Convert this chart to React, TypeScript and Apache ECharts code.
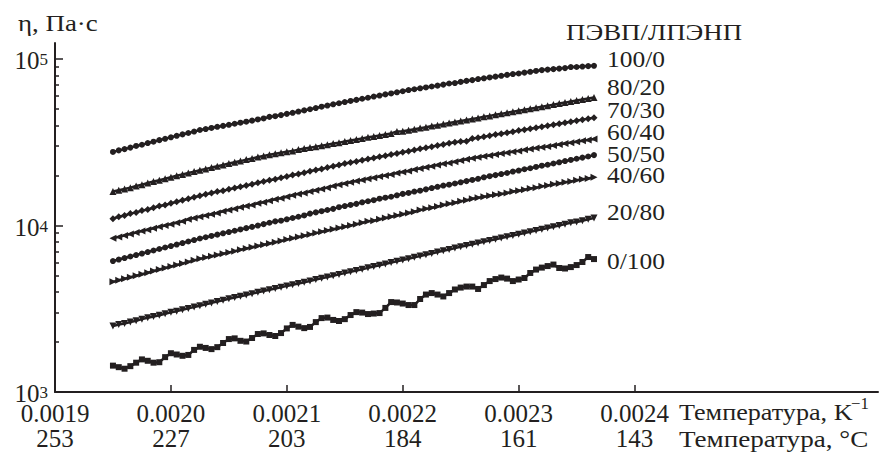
import React, { useEffect, useRef } from 'react';
import * as echarts from 'echarts';

// inverse temperature, 1/K
const invT = [
  0.00195, 0.001955, 0.00196, 0.001965, 0.00197, 0.001975, 0.00198, 0.001985, 0.00199, 0.001995,
  0.002, 0.002005, 0.00201, 0.002015, 0.00202, 0.002025, 0.00203, 0.002035, 0.00204, 0.002045,
  0.00205, 0.002055, 0.00206, 0.002065, 0.00207, 0.002075, 0.00208, 0.002085, 0.00209, 0.002095,
  0.0021, 0.002105, 0.00211, 0.002115, 0.00212, 0.002125, 0.00213, 0.002135, 0.00214, 0.002145,
  0.00215, 0.002155, 0.00216, 0.002165, 0.00217, 0.002175, 0.00218, 0.002185, 0.00219, 0.002195,
  0.0022, 0.002205, 0.00221, 0.002215, 0.00222, 0.002225, 0.00223, 0.002235, 0.00224, 0.002245,
  0.00225, 0.002255, 0.00226, 0.002265, 0.00227, 0.002275, 0.00228, 0.002285, 0.00229, 0.002295,
  0.0023, 0.002305, 0.00231, 0.002315, 0.00232, 0.002325, 0.00233, 0.002335, 0.00234, 0.002345,
  0.00235, 0.002355, 0.00236, 0.002365,
];

const eta100_0 = [
  27700, 28300, 28800, 29400, 30100, 30600, 31300, 31900, 32600, 33200,
  33900, 34600, 35300, 36000, 36700, 37500, 38000, 38600, 39200, 39700,
  40300, 40900, 41500, 42100, 42700, 43400, 44000, 45000, 45400, 46100,
  46900, 47600, 48400, 49200, 50000, 50800, 51800, 52600, 53500, 54300,
  55200, 56100, 56900, 57800, 58600, 59600, 60400, 61400, 62200, 63200,
  64100, 65200, 65900, 66800, 67600, 68500, 69300, 70300, 71400, 71800,
  73000, 74000, 74800, 75900, 76700, 77600, 78500, 79400, 80400, 81300,
  82000, 83000, 83900, 84900, 85900, 86500, 87100, 87700, 88300, 89600,
  89700, 90200, 90800, 91200,
];
const eta80_20 = [
  16000, 16300, 16600, 16900, 17300, 17600, 18000, 18400, 18700, 19100,
  19500, 19900, 20300, 20700, 21100, 21500, 21900, 22300, 22700, 23100,
  23600, 24000, 24400, 24900, 25300, 25800, 26200, 26600, 27000, 27400,
  27800, 28100, 28600, 29000, 29400, 29800, 30200, 30600, 31100, 31500,
  32000, 32400, 32900, 33400, 33900, 34300, 34800, 35300, 35800, 36800,
  36900, 37400, 37900, 38500, 39000, 39600, 40100, 40700, 41300, 41900,
  42500, 43100, 43700, 44300, 45000, 45600, 46300, 46900, 47600, 48300,
  49000, 49700, 50400, 51100, 51800, 52500, 53300, 54100, 54800, 55600,
  56400, 57200, 58000, 58900,
];
const eta70_30 = [
  11000, 11300, 11500, 11800, 12000, 12300, 12500, 12800, 13100, 13300,
  13600, 13900, 14200, 14500, 14800, 15100, 15400, 15700, 16000, 16200,
  16500, 16800, 17100, 17400, 17700, 18100, 18400, 18700, 19000, 19400,
  19700, 20100, 20400, 20800, 21200, 21600, 21900, 22300, 22700, 23100,
  23600, 23900, 24300, 24700, 25100, 25500, 25900, 26300, 26700, 27100,
  27600, 28000, 28400, 28900, 29300, 29800, 30300, 30700, 31200, 31700,
  32000, 32100, 33300, 33700, 34200, 34700, 35200, 35600, 36100, 36600,
  37200, 37700, 38200, 38700, 39300, 39800, 40400, 40900, 41500, 42100,
  42700, 43300, 43900, 44500,
];
const eta60_40 = [
  8380, 8550, 8720, 8890, 9070, 9260, 9440, 9630, 9830, 10000,
  10200, 10400, 10600, 10900, 11100, 11300, 11500, 11700, 11900, 12200,
  12400, 12600, 12900, 13100, 13300, 13600, 13800, 14100, 14400, 14600,
  14900, 15200, 15500, 15700, 16000, 16300, 16600, 16900, 17300, 17600,
  17900, 18200, 18500, 18800, 19100, 19400, 19700, 20000, 20300, 20700,
  21000, 21300, 21700, 22000, 22400, 22700, 23100, 23500, 23800, 24200,
  24600, 25000, 25400, 25700, 26100, 26400, 26700, 27100, 27400, 27800,
  28100, 28500, 28800, 29200, 29600, 29900, 30300, 30700, 31100, 31500,
  31900, 32300, 32700, 33100,
];
const eta50_50 = [
  6120, 6250, 6380, 6520, 6650, 6790, 6930, 7080, 7230, 7380,
  7530, 7690, 7850, 8020, 8180, 8360, 8510, 8660, 8820, 8980,
  9140, 9310, 9480, 9650, 9820, 10000, 10200, 10400, 10600, 10700,
  10900, 11100, 11300, 11500, 11800, 12000, 12200, 12400, 12600, 12900,
  13100, 13300, 13500, 13800, 14000, 14200, 14500, 14700, 14900, 15200,
  15500, 15700, 16000, 16200, 16500, 16800, 17100, 17400, 17600, 17900,
  18200, 18500, 18800, 19100, 19500, 19800, 20100, 20400, 20700, 21100,
  21400, 21800, 22100, 22500, 22900, 23200, 23600, 24000, 24400, 24800,
  25200, 25600, 26000, 26500,
];
const eta40_60 = [
  4590, 4690, 4790, 4890, 5000, 5100, 5210, 5330, 5440, 5560,
  5680, 5800, 5920, 6050, 6180, 6310, 6420, 6540, 6660, 6780,
  6900, 7020, 7150, 7280, 7410, 7540, 7670, 7810, 7950, 8090,
  8240, 8390, 8540, 8690, 8850, 9010, 9170, 9330, 9500, 9670,
  9840, 10000, 10200, 10400, 10600, 10700, 10900, 11100, 11300, 11500,
  11700, 11900, 12100, 12400, 12600, 12800, 13000, 13300, 13500, 13700,
  14000, 14200, 14500, 14700, 14900, 15100, 15300, 15500, 15700, 16000,
  16200, 16400, 16700, 16900, 17200, 17400, 17700, 17900, 18200, 18400,
  18700, 19000, 19200, 19500,
];
const eta20_80 = [
  2490, 2540, 2580, 2630, 2680, 2740, 2790, 2840, 2890, 2950,
  3010, 3060, 3120, 3180, 3240, 3300, 3370, 3430, 3500, 3560,
  3630, 3700, 3760, 3830, 3900, 3970, 4040, 4110, 4180, 4260,
  4340, 4410, 4490, 4570, 4650, 4740, 4820, 4910, 5000, 5090,
  5180, 5270, 5370, 5470, 5570, 5670, 5770, 5880, 5990, 6100,
  6210, 6320, 6440, 6560, 6680, 6800, 6930, 7050, 7180, 7320,
  7450, 7590, 7730, 7860, 8000, 8140, 8280, 8420, 8570, 8720,
  8870, 9020, 9180, 9340, 9500, 9670, 9830, 10000, 10200, 10400,
  10500, 10700, 10900, 11100,
];
const eta0_100 = [
  1440, 1410, 1380, 1430, 1500, 1570, 1540, 1500, 1510, 1620,
  1710, 1680, 1650, 1670, 1790, 1870, 1840, 1810, 1860, 1970,
  2080, 2100, 2030, 2010, 2110, 2230, 2250, 2200, 2170, 2260,
  2410, 2530, 2470, 2420, 2460, 2630, 2780, 2800, 2710, 2670,
  2740, 2900, 3020, 3000, 2940, 2960, 2980, 3200, 3470, 3450,
  3400, 3330, 3330, 3620, 3850, 3930, 3850, 3750, 3930, 4130,
  4240, 4300, 4300, 4160, 4390, 4640, 4770, 4870, 4800, 4640,
  4740, 4840, 5190, 5440, 5590, 5710, 5830, 5560, 5520, 5630,
  5790, 6040, 6470, 6290,
];

const seriesNames = ['100/0', '80/20', '70/30', '60/40', '50/50', '40/60', '20/80', '0/100'];
const seriesValues = [eta100_0, eta80_20, eta70_30, eta60_40, eta50_50, eta40_60, eta20_80, eta0_100];

const xTickValues = [0.0019, 0.002, 0.0021, 0.0022, 0.0023, 0.0024];
const xTickLabels = ['0.0019', '0.0020', '0.0021', '0.0022', '0.0023', '0.0024'];
const tempLabels = ['253', '227', '203', '184', '161', '143'];
const yMajor = [1000, 10000, 100000];
const yMinor = [2000, 3000, 4000, 5000, 6000, 7000, 8000, 9000, 20000, 30000, 40000, 50000, 60000, 70000, 80000, 90000];

const INK = '#231f20';
const FONT = 'Liberation Serif';

const markers = [
  { symbol: 'circle', rotate: 0, size: 6 },
  { symbol: 'triangle', rotate: 0, size: 7 },
  { symbol: 'diamond', rotate: 0, size: 7 },
  { symbol: 'triangle', rotate: 90, size: 7 },
  { symbol: 'circle', rotate: 0, size: 6 },
  { symbol: 'triangle', rotate: -90, size: 7 },
  { symbol: 'triangle', rotate: 180, size: 7 },
  { symbol: 'rect', rotate: 0, size: 6 },
];

// top of each series name label
const labelTop = [47, 75, 98, 120, 142, 163, 200, 249];

export default function App() {
  const ref = useRef<HTMLDivElement>(null);
  useEffect(() => {
    document.body.style.margin = '0';
    if (!ref.current) return;
    const chart = echarts.init(ref.current, undefined, { renderer: 'svg' });

    const series: any[] = seriesNames.map((name, si) => ({
      name,
      type: 'line',
      data: invT.map((x, i) => [x, seriesValues[si][i]]),
      symbol: markers[si].symbol,
      symbolRotate: markers[si].rotate,
      symbolSize: markers[si].size,
      showAllSymbol: true,
      itemStyle: { color: INK },
      lineStyle: { color: INK, width: 2.5 },
      silent: true,
    }));

    const txt = (text: string, x: number, y: number, size = 24, sx = 1.1) => ({
      type: 'text', x, y, scaleX: sx,
      style: { text, fontSize: size, fontFamily: FONT, fill: INK },
    });

    const texts: any[] = [
      txt('η, Па·с', 18, 11, 24, 1.12),
      txt('ПЭВП/ЛПЭНП', 566, 20, 24, 1.12),
      ...seriesNames.map((n, i) => txt(n, 607, labelTop[i], 24, 1.06)),
      txt('Температура, K', 679, 400, 24, 1.09),
      txt('−1', 851, 396, 16, 1.05),
      txt('Температура, °C', 679, 427, 24, 1.13),
    ];

    chart.setOption({
      animation: false,
      grid: { left: 55, right: 4, top: 43, bottom: 68 },
      xAxis: {
        type: 'value',
        min: 0.0019,
        max: 0.00261,
        splitLine: { show: false },
        axisLine: { lineStyle: { color: INK, width: 2 } },
        axisTick: { inside: true, length: 7, customValues: xTickValues.slice(1), lineStyle: { color: INK, width: 1.5 } },
        axisLabel: {
          customValues: xTickValues,
          margin: 9,
          color: INK,
          fontSize: 25,
          fontFamily: FONT,
          lineHeight: 25,
          formatter: (v: number) => {
            const i = xTickValues.findIndex((t) => Math.abs(t - v) < 1e-9);
            if (i < 0) return '';
            return xTickLabels[i] + '\n' + tempLabels[i];
          },
        },
      },
      yAxis: [
        {
          type: 'log',
          logBase: 10,
          min: 1000,
          max: 125000,
          splitLine: { show: false },
          axisLine: { lineStyle: { color: INK, width: 2 } },
          axisTick: { inside: true, length: 8, customValues: yMajor, lineStyle: { color: INK, width: 1.5 } },
          axisLabel: {
            customValues: yMajor,
            margin: 7,
            color: INK,
            fontFamily: FONT,
            fontSize: 25,
            formatter: (v: number) => `{b|10}{s|${Math.round(Math.log10(v))}}`,
            rich: {
              b: { fontSize: 25, fontFamily: FONT, color: INK, lineHeight: 16, padding: [3, 0, 0, 0] },
              s: { fontSize: 17, fontFamily: FONT, color: INK, lineHeight: 11, verticalAlign: 'top' },
            },
          },
        },
        {
          type: 'log',
          logBase: 10,
          min: 1000,
          max: 125000,
          position: 'left',
          splitLine: { show: false },
          axisLine: { show: false },
          axisTick: { inside: true, length: 4, customValues: yMinor, lineStyle: { color: INK, width: 1.5 } },
          axisLabel: { show: false },
        },
      ],
      series,
      graphic: texts,
    });
    return () => chart.dispose();
  }, []);
  return <div ref={ref} style={{ width: 882, height: 460 }} />;
}
